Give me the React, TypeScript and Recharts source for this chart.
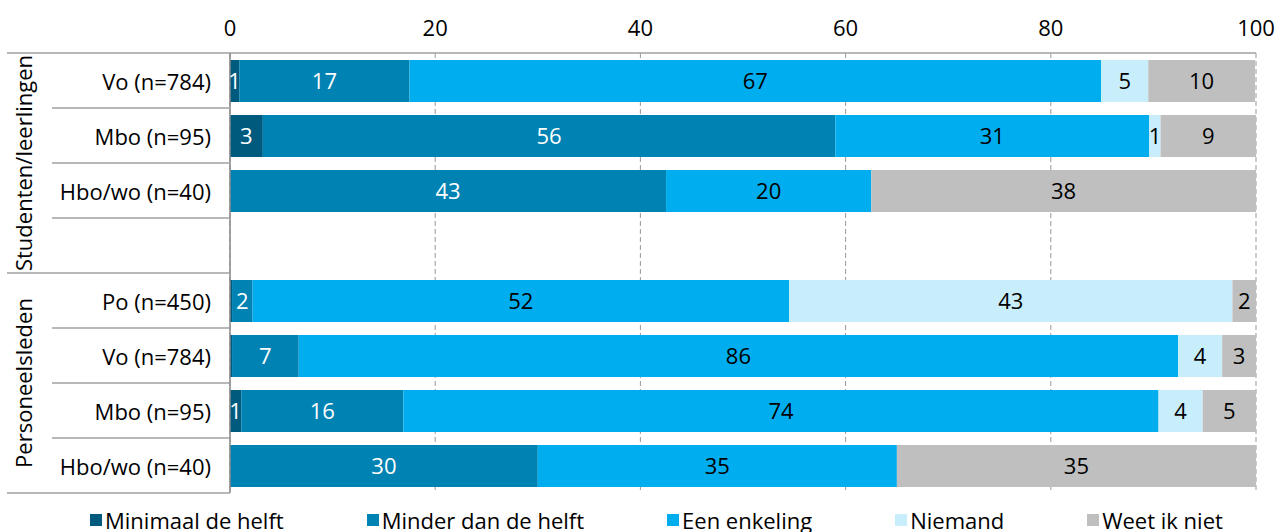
import React from 'react';
import { BarChart, Bar, XAxis, YAxis, CartesianGrid, Legend, LabelList } from 'recharts';

const rowIds = ['s_vo', 's_mbo', 's_hbo', 'gap', 'p_po', 'p_vo', 'p_mbo', 'p_hbo'];
const rowLabels = ['Vo (n=784)', 'Mbo (n=95)', 'Hbo/wo (n=40)', '', 'Po (n=450)', 'Vo (n=784)', 'Mbo (n=95)', 'Hbo/wo (n=40)'];
const groupNames = ['Studenten/leerlingen', 'Personeelsleden'];
const rowGroup = [0, 0, 0, 0, 1, 1, 1, 1];

const minimaal = [0.9, 3.2, 0, null, 0.2, 0.2, 1.1, 0];
const minder = [16.6, 55.8, 42.5, null, 2.0, 6.5, 15.8, 30.0];
const enkeling = [67.4, 30.6, 20.0, null, 52.3, 85.7, 73.6, 35.0];
const niemand = [4.6, 1.1, 0, null, 43.2, 4.3, 4.3, 0];
const weet = [10.4, 9.3, 37.5, null, 2.3, 3.3, 5.2, 35.0];

const xTicks = [0, 20, 40, 60, 80, 100];

const seriesNames = ['Minimaal de helft', 'Minder dan de helft', 'Een enkeling', 'Niemand', 'Weet ik niet'];
const seriesKeys = ['minimaal', 'minder', 'enkeling', 'niemand', 'weet'];
const seriesColors = ['#005A7E', '#0082B3', '#00AEEF', '#C8EEFC', '#BFBFBF'];
const labelColors = ['#FFFFFF', '#FFFFFF', '#000000', '#000000', '#000000'];

const data = rowIds.map((id, i) => ({
  id,
  minimaal: minimaal[i],
  minder: minder[i],
  enkeling: enkeling[i],
  niemand: niemand[i],
  weet: weet[i],
}));

const W = 1283;
const H = 532;
const TOP = 53;
const LEGEND_H = 39;
const Y_W = 230;
const BAND = (H - TOP - LEGEND_H) / rowIds.length;
const FONT = 'Open Sans, sans-serif';
const LINE = '#A0A0A0';

const fmt = (v: any) => (v == null || Number(v) < 0.5 ? '' : String(Math.round(Number(v))));

const XTick = (props: any) => {
  const { x, payload } = props;
  return (
    <text x={x} y={27} textAnchor="middle" dominantBaseline="central" fontSize={22} fontFamily={FONT} fill="#000">
      {payload.value}
    </text>
  );
};

const YTick = (props: any) => {
  const { x, y, payload } = props;
  const i = rowIds.indexOf(payload.value);
  const half = BAND / 2;
  const isGroupEnd = i === rowIds.length - 1 || rowGroup[i + 1] !== rowGroup[i];
  const isGroupStart = i === 0 || rowGroup[i - 1] !== rowGroup[i];
  const els: any[] = [];
  els.push(
    <text key="t" x={x - 19} y={y} textAnchor="end" dominantBaseline="central" fontSize={22} fontFamily={FONT} fill="#000">
      {rowLabels[i]}
    </text>
  );
  els.push(<line key="b" x1={isGroupEnd ? 7 : 52} x2={x} y1={y + half} y2={y + half} stroke={LINE} strokeWidth={1.5} />);
  if (i === 0) {
    els.push(<line key="tp" x1={7} x2={x} y1={y - half} y2={y - half} stroke={LINE} strokeWidth={1.5} />);
  }
  if (isGroupStart) {
    const count = rowGroup.filter((g) => g === rowGroup[i]).length;
    const cy = y - half + (count * BAND) / 2;
    els.push(
      <text key="g" x={23} y={cy} transform={`rotate(-90, 23, ${cy})`} textAnchor="middle" dominantBaseline="central" fontSize={22} fontFamily={FONT} fill="#000">
        {groupNames[rowGroup[i]]}
      </text>
    );
  }
  return <g>{els}</g>;
};

const LegendContent = () => (
  <div style={{ height: LEGEND_H, display: 'flex', alignItems: 'flex-start', paddingTop: 16, boxSizing: 'border-box', paddingLeft: 90, gap: 83, fontFamily: FONT, fontSize: 22, lineHeight: '22px', whiteSpace: 'nowrap' }}>
    {seriesNames.map((n, i) => (
      <div key={n} style={{ display: 'flex', alignItems: 'center' }}>
        <span style={{ display: 'inline-block', width: 12, height: 12, background: seriesColors[i], marginRight: 3 }} />
        <span>{n}</span>
      </div>
    ))}
  </div>
);

export default function App() {
  return (
    <div style={{ position: 'absolute', left: 0, top: 0, width: W, height: H, background: '#fff', fontFamily: FONT }}>
      <BarChart width={W} height={H} data={data} layout="vertical" margin={{ top: 0, right: 27, left: 0, bottom: 0 }} barSize={42}>
        <CartesianGrid horizontal={false} vertical={true} stroke="#999" strokeDasharray="5 3" />
        <XAxis type="number" orientation="top" domain={[0, 100]} ticks={xTicks} allowDataOverflow height={TOP} tick={<XTick />} tickLine={false} axisLine={{ stroke: LINE, strokeWidth: 1.5 }} interval={0} />
        <YAxis type="category" dataKey="id" width={Y_W} tick={<YTick />} tickLine={false} tickSize={0} tickMargin={0} axisLine={{ stroke: '#888', strokeWidth: 1.5 }} interval={0} />
        <Legend verticalAlign="bottom" align="left" content={<LegendContent />} wrapperStyle={{ left: 0, width: W, height: LEGEND_H }} />
        {seriesKeys.map((k, i) => (
          <Bar key={k} dataKey={k} name={seriesNames[i]} stackId="a" fill={seriesColors[i]} isAnimationActive={false}>
            <LabelList dataKey={k} position="center" fill={labelColors[i]} fontSize={22} fontFamily={FONT} formatter={fmt} />
          </Bar>
        ))}
      </BarChart>
    </div>
  );
}
